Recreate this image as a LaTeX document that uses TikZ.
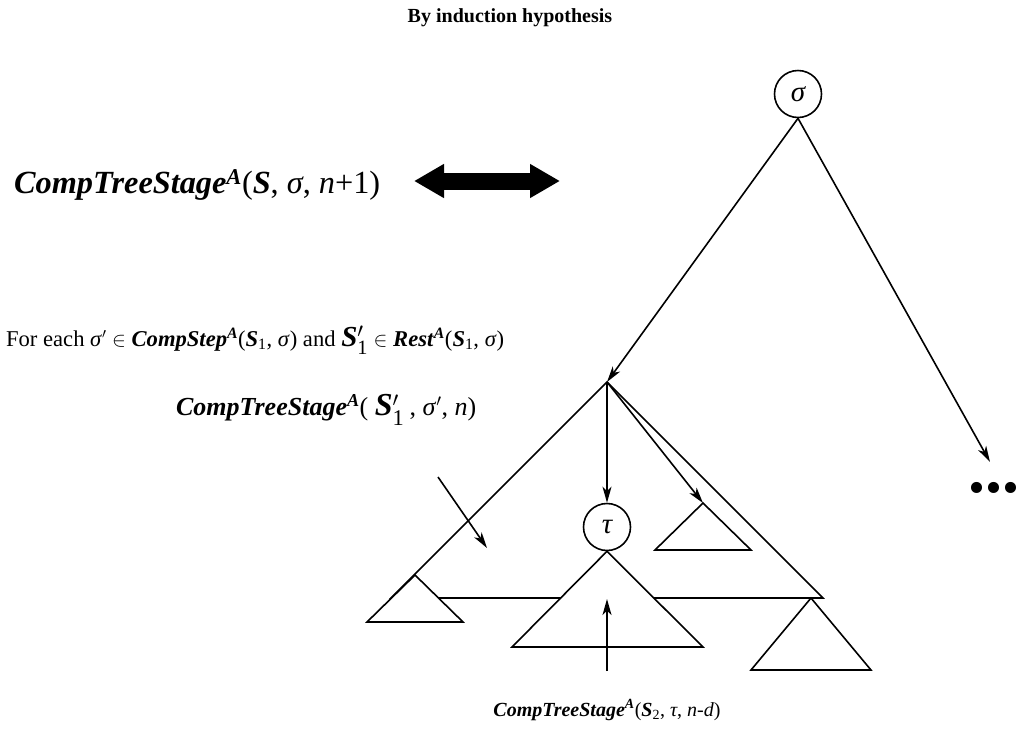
\documentclass[tikz,border=0pt]{standalone}
\usepackage{amsmath}
\usepackage{fontspec}
\setmainfont{Liberation Serif}
\usetikzlibrary{arrows.meta}
\newcommand{\bfit}[1]{\textbf{\textit{#1}}}
\newcommand{\supA}{\textsuperscript{\bfit{A}}}
\newcommand{\Sone}{\bfit{S}$'_{\text{1}}$}
\begin{document}
\begin{tikzpicture}[x=1pt,y=-1pt,line width=1.6pt,
        >={Stealth[length=16pt,width=9pt,inset=4.5pt]},
        state/.style={circle,draw,fill=white,minimum size=47pt,inner sep=0pt,font=\fontsize{29}{29}\selectfont\itshape},
        tri/.style={draw,fill=white,line join=miter}]
    \useasboundingbox (0,0) rectangle (1018,729);
    % labels
    \node[font=\fontsize{20}{24}\selectfont\bfseries] (title) at (510,18) {By induction hypothesis};
    \node[anchor=west,font=\fontsize{32.3}{36}\selectfont] (whole) at (10,185)
        {\bfit{CompTreeStage}\supA(\bfit{S}, \textit{σ}, \textit{n}+1)};
    \node[anchor=west,font=\fontsize{22.6}{26}\selectfont] (each) at (2,340)
        {For each \textit{σ}$'$ $\in$ \bfit{CompStep}\supA(\bfit{S}\textsubscript{1}, \textit{σ}) and {\fontsize{29}{29}\selectfont\Sone} $\in$ \bfit{Rest}\supA(\bfit{S}\textsubscript{1}, \textit{σ})};
    \node[anchor=west,font=\fontsize{26}{28}\selectfont] (part) at (172,410)
        {\bfit{CompTreeStage}\supA( {\fontsize{32}{32}\selectfont\Sone\,}, \textit{σ}$'$, \textit{n})};
    \node[font=\fontsize{20}{24}\selectfont] (sub) at (607,710)
        {\bfit{CompTreeStage}\supA(\bfit{S}\textsubscript{2}, \textit{τ}, \textit{n}-\textit{d})};
    \node[font=\fontsize{68}{68}\selectfont\bfseries] (dots) at (994,488) {...};
    % fat double arrow
    \coordinate (dl) at (414,181);
    \coordinate (dr) at (560,181);
    \draw[line width=17pt,{Triangle[length=30pt,width=32pt]}-{Triangle[length=30pt,width=32pt]}] (dl) -- (dr);
    % tree
    \node[state] (sig) at (798,94) {σ};
    \coordinate (P) at (607,382);
    \coordinate (far) at (990,462);
    \draw[->] (sig.south) -- (P);
    \draw[->] (sig.south) -- (far);
    \coordinate (bl) at (391,598);
    \coordinate (br) at (823,598);
    \draw (bl) -- (P) -- (br) -- cycle;
    \draw[tri] (415,575) -- (367,622) -- (463,622) -- cycle;
    \node[state] (tau) at (607,527) {τ};
    \draw[tri] (tau.south) -- (512,647) -- (703,647) -- cycle;
    \coordinate (top3) at (703,503);
    \draw[tri] (top3) -- (655,550) -- (751,550) -- cycle;
    \draw[tri] (811,598) -- (751,670) -- (871,670) -- cycle;
    \draw[->] (P) -- (tau);
    \draw[->] (P) -- (top3);
    % pointers to the subtrees
    \coordinate (in1) at (438,477);
    \coordinate (in2) at (487,548);
    \draw[->] (in1) -- (in2);
    \coordinate (up1) at (607,671);
    \coordinate (up2) at (607,599);
    \draw[->] (up1) -- (up2);
\end{tikzpicture}
\end{document}
